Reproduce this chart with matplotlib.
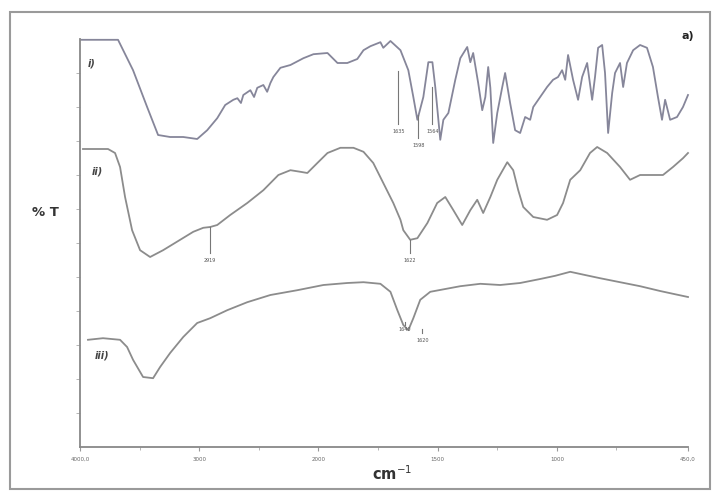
import numpy as np
import matplotlib
matplotlib.use("Agg")
import matplotlib.pyplot as plt
from matplotlib.patches import Rectangle

# ---------------- data (wavenumber cm-1, %T arbitrary offset units) ----------------
wn_i = [3990, 3681, 3555, 3437, 3345, 3244, 3134, 3017, 2933, 2849, 2782, 2714, 2680, 2650,
        2630, 2571, 2540, 2513, 2462, 2430, 2403, 2378, 2319, 2235, 2126, 2042, 1962, 1920,
        1879, 1837, 1811, 1782, 1740, 1728, 1698, 1656, 1623, 1602, 1585, 1560, 1539, 1522,
        1510, 1489, 1476, 1455, 1426, 1405, 1376, 1363, 1351, 1330, 1313, 1300, 1288, 1279,
        1267, 1250, 1229, 1217, 1196, 1175, 1154, 1133, 1112, 1099, 1070, 1041, 1016, 995,
        978, 965, 953, 932, 911, 894, 873, 852, 840, 827, 810, 798, 785, 768, 756, 735, 722,
        706, 680, 651, 622, 597, 576, 559, 546, 525, 496, 471, 450]
t_i = [101.8, 101.8, 94.2, 85.0, 78.0, 77.5, 77.5, 77.0, 79.2, 82.2, 85.5, 86.8, 87.2, 86.0,
       88.0, 89.2, 87.5, 89.8, 90.5, 88.8, 91.0, 92.5, 94.8, 95.5, 97.2, 98.2, 98.5, 96.0,
       96.0, 97.0, 99.2, 100.2, 101.2, 99.8, 101.5, 99.2, 94.2, 87.5, 81.8, 87.5, 96.2, 96.2,
       90.0, 76.8, 81.8, 83.5, 91.8, 97.2, 100.0, 96.2, 98.5, 91.0, 84.2, 87.5, 95.0, 89.8,
       76.0, 83.5, 90.0, 93.5, 86.0, 79.2, 78.5, 82.5, 81.8, 85.0, 87.5, 90.0, 91.8, 92.5,
       94.2, 91.8, 98.0, 91.8, 86.8, 92.5, 96.0, 86.8, 92.5, 99.8, 100.5, 93.5, 78.5, 88.5,
       93.5, 96.0, 90.0, 96.0, 99.2, 100.5, 99.8, 95.0, 87.5, 81.8, 86.8, 81.8, 82.5, 85.0, 88.0]

wn_ii = [3975, 3765, 3706, 3664, 3622, 3563, 3496, 3412, 3303, 3160, 3050, 2966, 2908, 2849,
         2740, 2597, 2462, 2336, 2235, 2151, 2093, 2009, 1962, 1908, 1853, 1811, 1770, 1728,
         1686, 1656, 1644, 1615, 1585, 1543, 1502, 1468, 1434, 1397, 1363, 1334, 1309, 1279,
         1250, 1208, 1183, 1162, 1141, 1099, 1041, 999, 974, 944, 902, 861, 831, 789, 735,
         693, 651, 597, 555, 513, 471, 450]
t_ii = [74.5, 74.5, 73.5, 70.0, 62.5, 54.2, 49.2, 47.5, 49.2, 51.8, 53.8, 54.8, 55.0, 55.5,
        58.0, 61.0, 64.2, 68.0, 69.2, 68.8, 68.5, 71.0, 73.5, 74.8, 74.8, 73.8, 71.0, 66.0,
        61.0, 56.8, 54.2, 51.8, 52.2, 56.0, 61.0, 62.5, 59.2, 55.5, 59.2, 61.8, 58.5, 62.5,
        66.8, 71.2, 69.2, 64.2, 60.0, 57.5, 56.8, 58.0, 61.0, 66.8, 69.2, 73.5, 75.0, 73.5, 70.0,
        66.8, 68.0, 68.0, 68.0, 70.0, 72.2, 73.5]

wn_iii = [3933, 3807, 3664, 3605, 3555, 3471, 3387, 3328, 3244, 3134, 3017, 2908, 2765, 2597,
          2403, 2177, 1979, 1879, 1811, 1740, 1698, 1669, 1644, 1623, 1602, 1573, 1531, 1468,
          1405, 1321, 1238, 1154, 1070, 1007, 944, 882, 819, 735, 651, 567, 505, 450]
t_iii = [26.8, 27.2, 26.8, 25.0, 21.8, 17.5, 17.2, 20.0, 23.5, 27.5, 31.0, 32.2, 34.2, 36.2,
         38.0, 39.2, 40.5, 41.0, 41.2, 40.8, 38.8, 34.2, 30.5, 29.2, 32.2, 36.8, 38.8, 39.5,
         40.2, 40.8, 40.5, 41.0, 42.0, 42.8, 43.8, 43.0, 42.2, 41.2, 40.2, 39.0, 38.2, 37.5]

# peak annotations: (wavenumber, curve %T, label %T, text)
peaks_i = [(1665, 94.0, 79.5, "1635"), (1581, 83.0, 76.0, "1598"), (1522, 90.0, 79.5, "1564")]
peaks_ii = [(2908, 55.0, 47.2, "2919"), (1615, 51.8, 47.2, "1622")]
peaks_iii = [(1636, 30.5, 30.0, "1640"), (1564, 29.5, 27.3, "1620")]

xtick_vals = [4000, 3000, 2000, 1500, 1000, 450]
xtick_labels = ["4000,0", "3000", "2000", "1500", "1000", "450,0"]
xminor_vals = [3500, 2500, 1750, 1250, 750]
ytick_vals = [8.5, 17, 25.5, 34, 42.5, 51, 59.5, 68, 76.5, 85, 93.5]

curve_labels = [("i)", 3935, 96.0), ("ii)", 3900, 69.0), ("iii)", 3875, 23.0)]

# ---------------- scale: 4000-2000 compressed by half ----------------
def fwd(x):
    x = np.asarray(x, dtype=float)
    return np.where(x <= 2000, (x - 450) * 2.0, 3100 + (x - 2000))

def inv(u):
    u = np.asarray(u, dtype=float)
    return np.where(u <= 3100, u / 2.0 + 450, u - 1100)

W, H = 717, 497
fig = plt.figure(figsize=(W / 100, H / 100), dpi=100)
fig.patch.set_facecolor("white")

ax = fig.add_axes([80 / W, 1 - 447 / H, (688 - 80) / W, (447 - 39) / H])
ax.set_xscale("function", functions=(fwd, inv))
ax.set_xlim(4000, 450)
ax.set_ylim(0, 102)

colors = ["#86869a", "#8c8c8c", "#8c8c8c"]
for (wn, t), c in zip([(wn_i, t_i), (wn_ii, t_ii), (wn_iii, t_iii)], colors):
    ax.plot(wn, t, color=c, lw=1.3, clip_on=False, solid_joinstyle="round")

for group in (peaks_i, peaks_ii, peaks_iii):
    for wn, tc, tl, txt in group:
        ax.plot([wn, wn], [tc, tl + 1.2], color="#777777", lw=0.8)
        ax.text(wn, tl, txt, fontsize=3.5, color="#555555", ha="center", va="top")

for txt, wn, t in curve_labels:
    ax.text(wn, t, txt, fontsize=7, fontstyle="italic", fontweight="bold",
            color="#444444", ha="left", va="center")

for s in ("top", "right"):
    ax.spines[s].set_visible(False)
for s in ("left", "bottom"):
    ax.spines[s].set_color("#888888")
    ax.spines[s].set_linewidth(1.3)

ax.set_xticks(xtick_vals)
ax.set_xticklabels(xtick_labels)
ax.set_xticks(xminor_vals, minor=True)
ax.tick_params(axis="x", which="major", length=3, width=0.8, color="#999999",
               labelsize=4, labelcolor="#666666", pad=4)
ax.tick_params(axis="x", which="minor", length=2, width=0.6, color="#aaaaaa")
ax.set_yticks(ytick_vals)
ax.set_yticklabels([])
ax.tick_params(axis="y", length=3, width=0.6, color="#aaaaaa")

fig.text(45 / W, 1 - 213 / H, "% T", fontsize=9.5, fontweight="bold", color="#333333",
         ha="center", va="center")
fig.text(392 / W, 1 - 474 / H, "cm$^{-1}$", fontsize=10.5, fontweight="bold",
         color="#333333", ha="center", va="center")
fig.text(688 / W, 1 - 36 / H, "a)", fontsize=8, fontweight="bold", color="#222222",
         ha="center", va="center")

fig.patches.append(Rectangle((10 / W, 1 - 489 / H), 700 / W, (489 - 12) / H,
                             transform=fig.transFigure, fill=False,
                             edgecolor="#9a9a9a", lw=1.5))

fig.savefig("out.png", dpi=100, facecolor="white")
